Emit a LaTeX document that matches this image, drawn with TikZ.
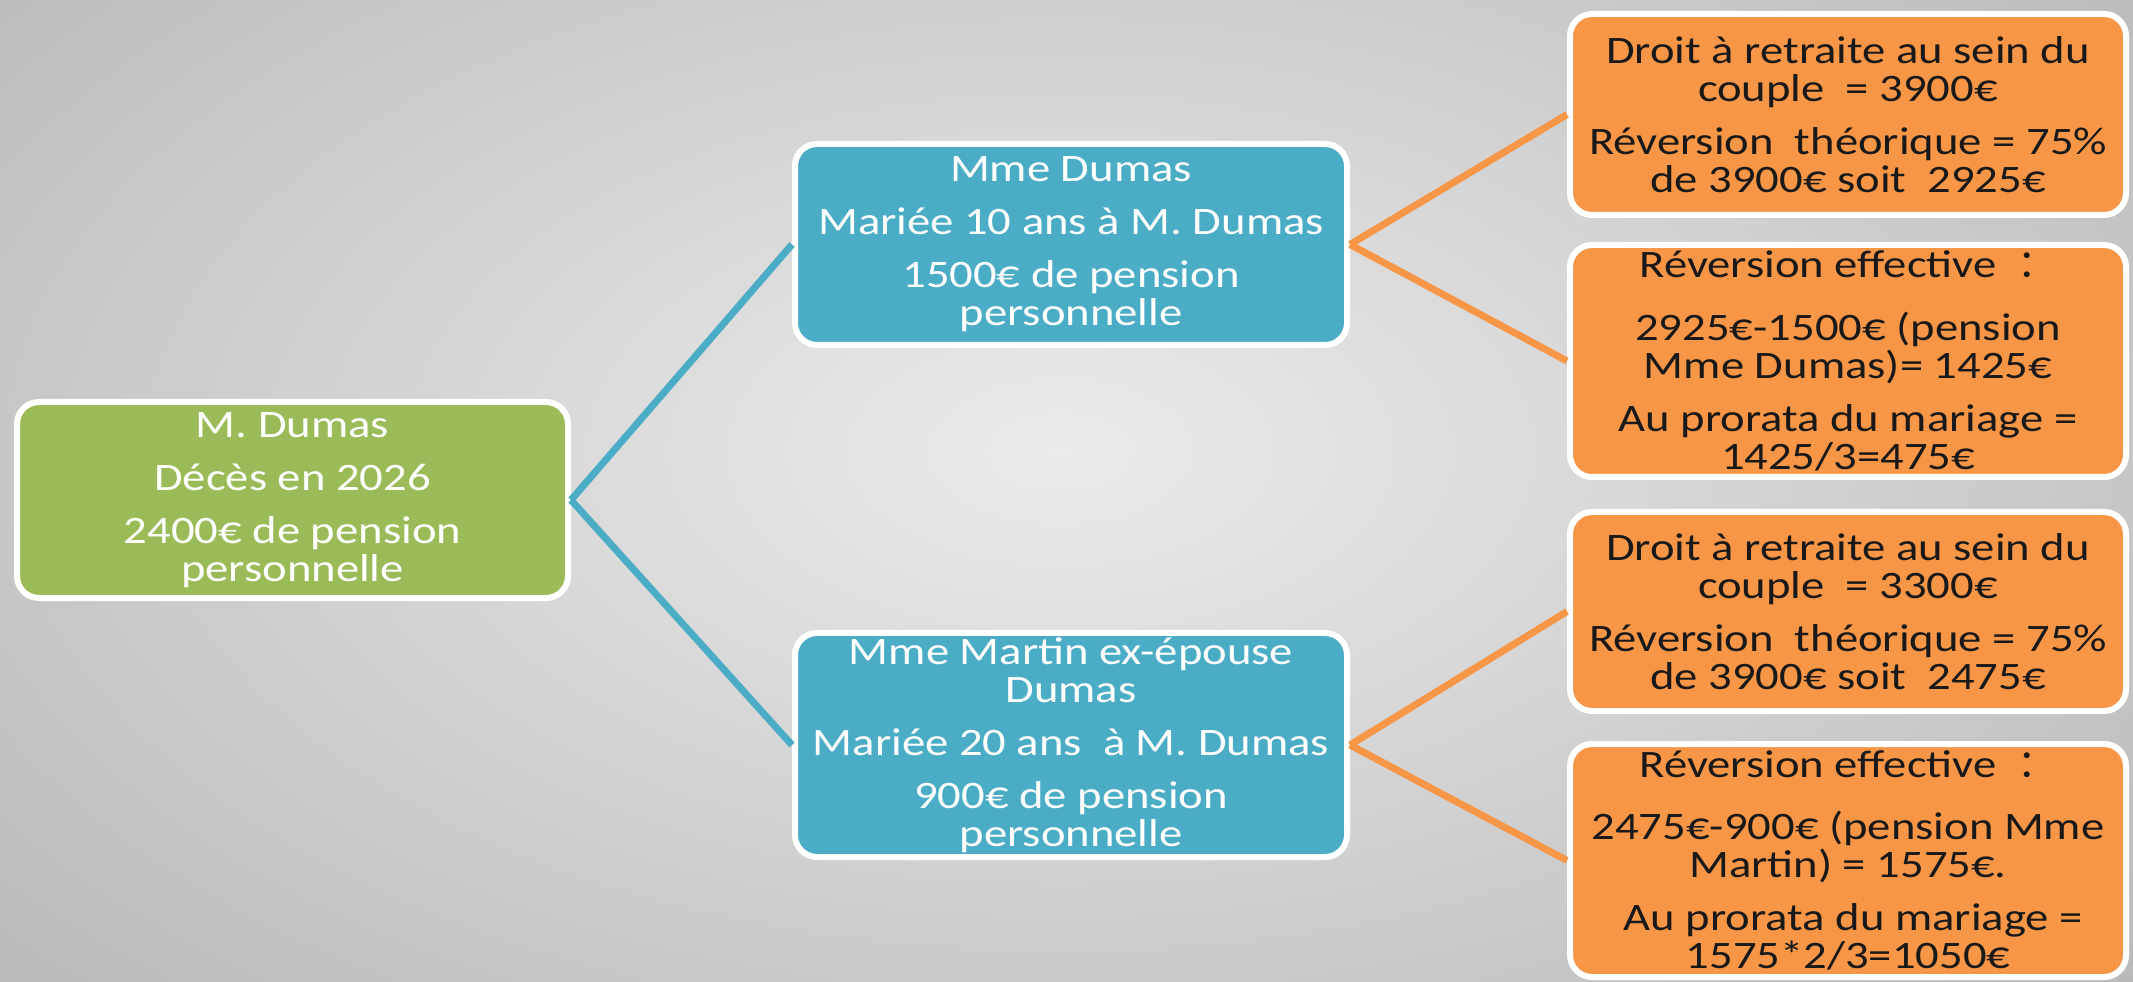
\documentclass[tikz,border=0pt]{standalone}
\usepackage{fontspec}
\setmainfont{Carlito}[FakeStretch=1.2]
\newfontfamily\cjk{Noto Sans CJK SC}
\usepackage{xcolor}
\usepackage{tikz}

\definecolor{bgmid}{HTML}{ECEBEC}
\definecolor{bgedge}{HTML}{A09FA0}
\definecolor{rootgreen}{HTML}{9BBB59}
\definecolor{wifeblue}{HTML}{4BACC6}
\definecolor{calcorange}{HTML}{F79646}

\newcommand{\gap}{\\[4.3pt]}
\newcommand{\biggap}{\\[7pt]}

\tikzset{
  box/.style={draw=white, line width=0.06cm, rounded corners=0.22cm,
    align=center, inner sep=0pt,
    font=\fontsize{11.06pt}{10.8pt}\selectfont},
  rootbox/.style={box, fill=rootgreen, text=white,
    minimum width=5.51cm, minimum height=1.96cm},
  wifebox/.style={box, fill=wifeblue, text=white, minimum width=5.52cm},
  calcbox/.style={box, fill=calcorange, text=black!90, minimum width=5.56cm},
  bluelink/.style={wifeblue, line width=0.07cm},
  orangelink/.style={calcorange, line width=0.07cm}
}

\begin{document}
\begin{tikzpicture}[x=1cm, y=1cm]

  % -- background: grey radial gradient ----------------------------------
  \begin{scope}
    \clip (0,0) rectangle (21.33,9.81);
    \shade[inner color=bgmid, outer color=bgedge]
      (-11.4,-6.7) rectangle (32.6,17.3);
  \end{scope}
  \useasboundingbox (0,0) rectangle (21.33,9.81);

  % -- the deceased ---------------------------------------------------------
  \node[rootbox] (dumas) at (2.925,4.81)
    {M. Dumas\gap Décès en 2026\gap 2400€ de pension\\ personnelle};

  % -- the two spouses ------------------------------------------------------
  \node[wifebox, minimum height=2.01cm] (wife) at (10.71,7.365)
    {Mme Dumas\gap Mariée 10 ans à M. Dumas\gap 1500€ de pension\\ personnelle};
  \node[wifebox, minimum height=2.24cm] (exwife) at (10.71,2.36)
    {Mme Martin ex-épouse\\ Dumas\gap Mariée 20 ans~~à M. Dumas\gap 900€ de pension\\ personnelle};

  % -- calculations for Mme Dumas -------------------------------------------
  \node[calcbox, minimum height=2.01cm] (wiferight) at (18.48,8.665)
    {Droit à retraite au sein du\\ couple~~= 3900€\gap Réversion~~théorique = 75\%\\ de 3900€ soit~~2925€};
  \node[calcbox, minimum height=2.32cm] (wifeshare) at (18.48,6.20)
    {Réversion effective~~{\cjk ：}\biggap 2925€-1500€ (pension\\ Mme Dumas)= 1425€\gap Au prorata du mariage =\\ 1425/3=475€};

  % -- calculations for Mme Martin ------------------------------------------
  \node[calcbox, minimum height=1.99cm] (exwiferight) at (18.48,3.695)
    {Droit à retraite au sein du\\ couple~~= 3300€\gap Réversion~~théorique = 75\%\\ de 3900€ soit~~2475€};
  \node[calcbox, minimum height=2.33cm] (exwifeshare) at (18.48,1.205)
    {Réversion effective~~{\cjk ：}\biggap 2475€-900€ (pension Mme\\ Martin) = 1575€.\gap ~Au prorata du mariage =\\ 1575*2/3=1050€};

  % -- connectors -------------------------------------------------------------
  \draw[bluelink] (dumas.east) -- (wife.west);
  \draw[bluelink] (dumas.east) -- (exwife.west);
  \draw[orangelink] (wife.east) -- (wiferight.west);
  \draw[orangelink] (wife.east) -- (wifeshare.west);
  \draw[orangelink] (exwife.east) -- (exwiferight.west);
  \draw[orangelink] (exwife.east) -- (exwifeshare.west);

\end{tikzpicture}
\end{document}
